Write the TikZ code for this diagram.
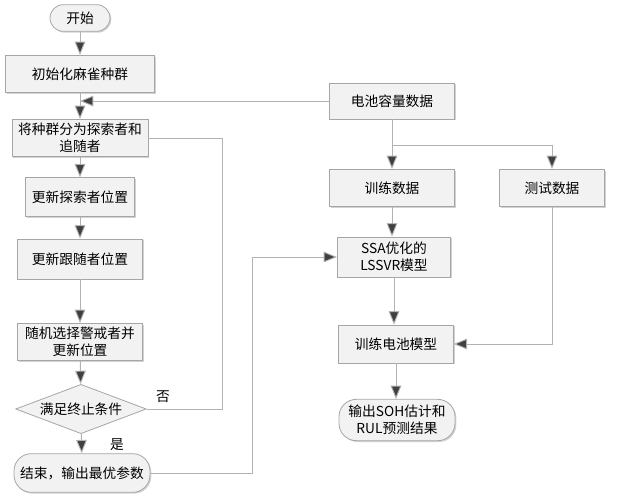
\documentclass[tikz,border=0pt]{standalone}
\usepackage{fontspec}
\setmainfont{Noto Sans CJK SC}
\usetikzlibrary{shapes.geometric,arrows.meta,shadows}
\begin{document}
\begin{tikzpicture}[x=0.75pt,y=-0.75pt,
  font=\fontsize{10.3}{12.5}\selectfont,
  box/.style={draw=gray!70,fill=gray!10,line width=0.6pt,align=center,inner sep=1pt,
    drop shadow={shadow xshift=1pt,shadow yshift=-1pt,fill=gray!35,opacity=1}},
  term/.style={box,rounded corners=10pt},
  ln/.style={draw=gray!60,line width=0.7pt},
  arr/.style={ln,-{Triangle[length=10pt,width=8pt,fill=black!75]}}]
\useasboundingbox (0,0) rectangle (621,500);
\node[term,minimum width=45pt,minimum height=20pt] (start) at (80,18) {开始};
\node[box,minimum width=112pt,minimum height=28pt] (init) at (80,74) {初始化麻雀种群};
\node[box,minimum width=102pt,minimum height=28pt] (split) at (80,138) {将种群分为探索者和\\追随者};
\node[box,minimum width=82pt,minimum height=29pt] (expl) at (80,197) {更新探索者位置};
\node[box,minimum width=94pt,minimum height=30pt] (foll) at (80,259) {更新跟随者位置};
\node[box,minimum width=94pt,minimum height=28pt] (warn) at (80,342) {随机选择警戒者并\\更新位置};
\node[diamond,draw=gray!70,fill=gray!10,line width=0.6pt,inner sep=0pt,minimum width=98pt,minimum height=37pt] (cond) at (81,409) {};
\node (condtxt) at (cond.center) {满足终止条件};
\node[term,rounded corners=13pt,minimum width=102pt,minimum height=29pt] (end) at (82,473) {结束，输出最优参数};
\node (no) at (163,397) {否};
\node (yes) at (117,445) {是};
\node[box,minimum width=94pt,minimum height=27pt] (bat) at (392,101) {电池容量数据};
\node[box,minimum width=94pt,minimum height=28pt] (train) at (392,188) {训练数据};
\node[box,minimum width=79pt,minimum height=28pt] (test) at (552,188) {测试数据};
\node[box,minimum width=85pt,minimum height=30pt] (ssa) at (394,257) {SSA优化的\\LSSVR模型};
\node[box,minimum width=86pt,minimum height=28.5pt] (model) at (396,344) {训练电池模型};
\node[term,rounded corners=13pt,minimum width=87pt,minimum height=31pt] (out) at (397,420) {输出SOH估计和\\RUL预测结果};
\coordinate (loopx) at (222,0);
\coordinate (endx) at (252,0);
\coordinate (splity) at (0,145);
\draw[arr] (start) -- (init);
\draw[arr] (init) -- (split);
\draw[arr] (split) -- (expl);
\draw[arr] (expl) -- (foll);
\draw[arr] (foll) -- (warn);
\draw[arr] (warn) -- (cond);
\draw[arr] (cond) -- (end);
\draw[arr] (bat.west) -- (init.south |- bat.west);
\draw[ln] (cond.east) -| (loopx |- split.east) -- (split.east);
\draw[arr] (end.east) -| (endx |- ssa.west) -- (ssa.west);
\draw[arr] (bat.south) -- (train.north);
\draw[arr] (bat.south |- splity) -| (test.north);
\draw[arr] (train.south) -- (train.south |- ssa.north);
\draw[arr] (ssa.south) -- (ssa.south |- model.north);
\draw[arr] (test.south) |- (model.east);
\draw[arr] (model.south) -- (model.south |- out.north);
\end{tikzpicture}
\end{document}
